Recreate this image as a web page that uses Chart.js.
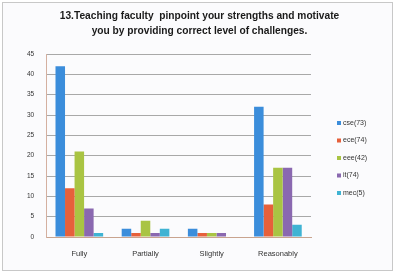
<!DOCTYPE html>
<html>
<head>
<meta charset="utf-8">
<script src="https://cdn.jsdelivr.net/npm/chart.js@4"></script>
<style>
  html, body { margin: 0; padding: 0; background: #ffffff; }
  #wrap { position: absolute; left: 2px; top: 2px; width: 389px; height: 267px;
          border: 1px solid #c8c8c8; background: #fbfbfd; }
  canvas { display: block; }
</style>
</head>
<body>
<div id="wrap"><canvas id="c" width="389" height="267"></canvas></div>
<script>
// ── data ──
const categories = ['Fully', 'Partially', 'Slightly', 'Reasonably'];
const seriesNames = ['cse(73)', 'ece(74)', 'eee(42)', 'it(74)', 'mec(5)'];
const cseVals  = [42, 2, 2, 32];
const eceVals  = [12, 1, 1, 8];
const eeeVals  = [21, 4, 1, 17];
const itVals   = [7, 1, 1, 17];
const mecVals  = [1, 2, 0, 3];
const yTicks   = [0, 5, 10, 15, 20, 25, 30, 35, 40, 45];
const titleLines = ['13.Teaching faculty  pinpoint your strengths and motivate',
                    'you by providing correct level of challenges.'];

const COLORS = ['#3b8ddb', '#e6603b', '#a9c443', '#8a68b0', '#3fb3d3'];
const values = [cseVals, eceVals, eeeVals, itVals, mecVals];

const datasets = seriesNames.map((name, i) => ({
  label: name,
  data: values[i],
  backgroundColor: COLORS[i],
  borderWidth: 0,
  categoryPercentage: 0.72,
  barPercentage: 1.0,
}));

// title + legend drawn by hand: the plot is pushed left by the legend,
// but the title stays centred on the whole box
const decorations = {
  id: 'decorations',
  afterDraw(chart) {
    const ctx = chart.ctx;
    ctx.save();
    ctx.fillStyle = '#1a1a1a';
    ctx.font = 'bold 10.2px "Liberation Sans"';
    ctx.textAlign = 'center';
    ctx.textBaseline = 'middle';
    titleLines.forEach((t, i) => ctx.fillText(t, chart.width / 2 + 2, 13 + i * 15));

    ctx.font = '7px "Liberation Sans"';
    ctx.textAlign = 'left';
    chart.data.datasets.forEach((ds, i) => {
      const y = 120 + i * 17.5;
      ctx.fillStyle = ds.backgroundColor;
      ctx.fillRect(334, y - 2, 4, 4);
      ctx.fillStyle = '#333';
      ctx.fillText(ds.label, 340, y);
    });
    ctx.restore();
  }
};

new Chart(document.getElementById('c'), {
  type: 'bar',
  data: { labels: categories, datasets },
  plugins: [decorations],
  options: {
    responsive: false,
    animation: false,
    layout: { padding: { left: 12, right: 81, top: 51, bottom: 0 } },
    plugins: {
      title: { display: false },
      legend: { display: false },
      tooltip: { enabled: false },
    },
    scales: {
      x: {
        grid: { display: false, drawTicks: false },
        border: { color: '#c9a48f' },
        ticks: { color: '#333', font: { family: 'Liberation Sans', size: 7.5 }, padding: 12 },
      },
      y: {
        min: 0, max: 45,
        afterBuildTicks: axis => { axis.ticks = yTicks.map(v => ({ value: v })); },
        grid: { color: '#a8a8a8', drawTicks: false },
        border: { color: '#d4b0a0' },
        ticks: { color: '#333', font: { family: 'Liberation Sans', size: 6.5 }, padding: 12 },
      },
    },
  },
});
</script>
</body>
</html>
